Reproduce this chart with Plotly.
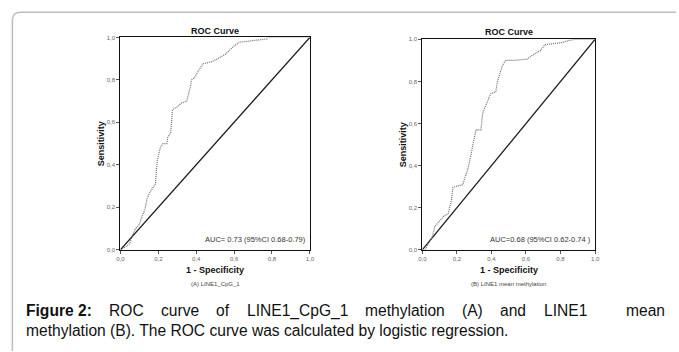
import plotly.graph_objects as go

W, H = 679, 352

# ---- data ----
fpr_a = [0, 0.01, 0.03, 0.05, 0.06, 0.08, 0.10, 0.115, 0.13, 0.14, 0.155, 0.17, 0.185, 0.19, 0.195,
         0.21, 0.225, 0.245, 0.25, 0.265, 0.27, 0.275, 0.305, 0.32, 0.35, 0.36, 0.37, 0.375, 0.39,
         0.41, 0.436, 0.48, 0.514, 0.557, 0.592, 0.627, 0.6875, 0.774, 0.78, 0.87, 1.0]
tpr_a = [0, 0.005, 0.015, 0.03, 0.06, 0.10, 0.12, 0.16, 0.19, 0.24, 0.27, 0.29, 0.31, 0.38, 0.42,
         0.48, 0.50, 0.50, 0.53, 0.55, 0.60, 0.66, 0.676, 0.69, 0.70, 0.73, 0.77, 0.80, 0.81,
         0.84, 0.876, 0.885, 0.90, 0.923, 0.954, 0.977, 0.985, 0.993, 1.0, 1.0, 1.0]

fpr_b = [0, 0.015, 0.034, 0.057, 0.072, 0.1, 0.124, 0.149, 0.168, 0.177, 0.215, 0.234, 0.244, 0.263,
         0.282, 0.301, 0.31, 0.339, 0.349, 0.368, 0.396, 0.425, 0.434, 0.463, 0.482, 0.53, 0.606,
         0.644, 0.682, 0.71, 0.81, 0.848, 0.886, 0.96, 1.0]
tpr_b = [0, -0.005, 0.03, 0.06, 0.11, 0.14, 0.16, 0.17, 0.234, 0.297, 0.305, 0.31, 0.336, 0.383,
         0.453, 0.54, 0.57, 0.57, 0.648, 0.688, 0.742, 0.75, 0.797, 0.875, 0.90, 0.90, 0.906,
         0.929, 0.945, 0.975, 0.985, 0.995, 1.0, 1.0, 1.0]

diag = [0, 1]
tick_vals = [0, 0.2, 0.4, 0.6, 0.8, 1.0]
tick_text = ["0,0", "0,2", "0,4", "0,6", "0,8", "1,0"]

panel_titles = ["ROC Curve", "ROC Curve"]
x_title = "1 - Specificity"
y_title = "Sensitivity"
auc_text = ["AUC= 0.73 (95%CI 0.68-0.79)", "AUC=0.68 (95%CI 0.62-0.74 )"]
sub_captions = ["(A) LINE1_CpG_1", "(B) LINE1 mean methylation"]
caption_1_words = ["Figure 2:", "ROC", "curve", "of", "LINE1_CpG_1", "methylation", "(A)", "and",
                   "LINE1", "mean"]
caption_2 = "methylation (B). The ROC curve was calculated by logistic regression."

# ---- layout helpers (pixel -> paper) ----
def px(x):
    return x / W

def py(y):
    return 1 - y / H

# approximate Arial / Liberation Sans advance widths (per 1000 em), for justifying
AW = {c: 556 for c in "abdeghnopqu0123456789_"}
AW.update({"c": 500, "f": 278, "i": 222, "j": 222, "k": 500, "l": 222, "m": 833, "r": 333,
           "s": 500, "t": 278, "v": 500, "w": 722, "x": 500, "y": 500, "z": 500, " ": 278,
           "A": 667, "B": 667, "C": 722, "D": 722, "E": 667, "F": 611, "G": 778, "H": 722,
           "I": 278, "L": 556, "M": 833, "N": 722, "O": 778, "P": 667, "R": 722, "S": 667,
           "T": 611, "(": 333, ")": 333, ":": 278, ".": 278})
AWB = dict(AW)
AWB.update({"i": 278, "g": 611, "u": 611, "r": 389, ":": 333})

def text_w(s, size, bold=False):
    tbl = AWB if bold else AW
    return sum(tbl.get(c, 556) for c in s) * size / 1000.0

panels = [
    dict(x0=118, x1=310, y0=35, y1=251),
    dict(x0=424, x1=599, y0=37, y1=251),
]

fig = go.Figure()

curve_line = dict(color="#6e6e6e", width=1.2, dash="1px,1px")
diag_line = dict(color="#1a1a1a", width=1.3)

for i, (fx, ty) in enumerate([(fpr_a, tpr_a), (fpr_b, tpr_b)]):
    xa = "x" if i == 0 else "x2"
    ya = "y" if i == 0 else "y2"
    fig.add_trace(go.Scatter(x=diag, y=diag, mode="lines", line=diag_line,
                             xaxis=xa, yaxis=ya, showlegend=False, hoverinfo="skip"))
    fig.add_trace(go.Scatter(x=fx, y=ty, mode="lines", line=curve_line,
                             xaxis=xa, yaxis=ya, showlegend=False))

tick_font = dict(family="Liberation Sans, Arial", size=6, color="#666")
axis_common = dict(range=[0, 1], tickvals=tick_vals, ticktext=tick_text, ticks="outside",
                   ticklen=3, tickwidth=1, tickcolor="#555", showgrid=False, zeroline=False,
                   showline=True, linecolor="#111", linewidth=1.3, mirror=True,
                   tickfont=tick_font)

layout = dict(
    width=W, height=H, margin=dict(l=0, r=0, t=0, b=0),
    paper_bgcolor="white", plot_bgcolor="white", showlegend=False,
)
for i, p in enumerate(panels):
    sfx = "" if i == 0 else "2"
    layout["xaxis" + sfx] = dict(axis_common, domain=[px(p["x0"]), px(p["x1"])],
                                 anchor="y" + sfx)
    layout["yaxis" + sfx] = dict(axis_common, domain=[py(p["y1"]), py(p["y0"])],
                                 anchor="x" + sfx)
fig.update_layout(**layout)

ann = []
bold_font = dict(family="Liberation Sans, Arial", size=9, color="#111")
small_font = dict(family="Liberation Sans, Arial", size=7.5, color="#333")
for i, p in enumerate(panels):
    cx = (p["x0"] + p["x1"]) / 2
    cy = (p["y0"] + p["y1"]) / 2
    ann.append(dict(x=px(cx), y=py(p["y0"] - 7), xref="paper", yref="paper",
                    text="<b>%s</b>" % panel_titles[i], showarrow=False, font=bold_font,
                    xanchor="center", yanchor="middle"))
    ann.append(dict(x=px(cx), y=py(272), xref="paper", yref="paper",
                    text="<b>%s</b>" % x_title, showarrow=False, font=bold_font,
                    xanchor="center", yanchor="middle"))
    ann.append(dict(x=px(p["x0"] - 20), y=py(cy), xref="paper", yref="paper",
                    text="<b>%s</b>" % y_title, showarrow=False, font=bold_font,
                    textangle=-90, xanchor="center", yanchor="middle"))
    ann.append(dict(x=px(p["x1"] - 2), y=py(p["y1"] - 10), xref="paper", yref="paper",
                    text=auc_text[i], showarrow=False, font=small_font,
                    xanchor="right", yanchor="middle"))
    ann.append(dict(x=px(cx), y=py(286), xref="paper", yref="paper",
                    text=sub_captions[i], showarrow=False,
                    font=dict(family="Liberation Sans, Arial", size=6, color="#444"),
                    xanchor="center", yanchor="middle"))

# caption: first line spread between x=22 and x=668
cap_size = 15.6
cap_font = dict(family="Liberation Sans, Arial", size=cap_size, color="#111")
left, right = 21, 668
widths = [text_w(w, cap_size, bold=(k == 0)) for k, w in enumerate(caption_1_words)]
gap_weights = [1, 1, 1, 1, 1, 1, 1, 1, 2.2]
unit = (right - left - sum(widths)) / sum(gap_weights)
xpos = left
for k, w in enumerate(caption_1_words):
    ann.append(dict(x=px(xpos), y=py(313), xref="paper", yref="paper",
                    text=("<b>%s</b>" % w) if k == 0 else w, showarrow=False, font=cap_font,
                    xanchor="left", yanchor="middle", borderpad=0))
    if k < len(gap_weights):
        xpos += widths[k] + unit * gap_weights[k]
ann.append(dict(x=px(left), y=py(333), xref="paper", yref="paper", text=caption_2,
                showarrow=False, font=cap_font, xanchor="left", yanchor="middle", borderpad=0))
fig.update_layout(annotations=ann)

# rounded border box
bx, by, r = 8.5, 9.5, 8
path = "M %f,%f L %f,%f Q %f,%f %f,%f L %f,%f" % (
    px(bx), py(H + 2), px(bx), py(by + r), px(bx), py(by), px(bx + r), py(by), px(W + 2), py(by))
fig.update_layout(shapes=[dict(type="path", path=path, xref="paper", yref="paper",
                               line=dict(color="#bdbdbd", width=1.5))])

fig.write_html("out.html", config={"displayModeBar": False},
               post_script="document.body.style.margin='0';document.body.style.overflow='hidden';")
